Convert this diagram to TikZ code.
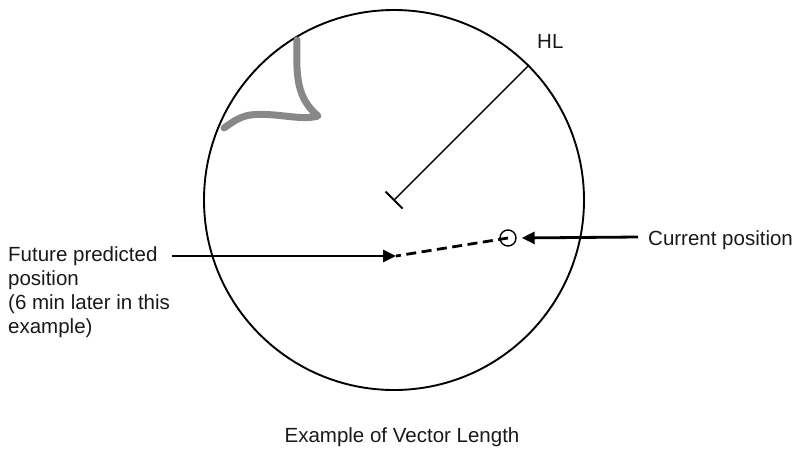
\documentclass[tikz,border=0pt]{standalone}
\usepackage{fontspec}
\setmainfont{Liberation Sans}
\usetikzlibrary{arrows.meta}
\definecolor{echo}{RGB}{136,136,136}
\begin{document}
\begin{tikzpicture}[x=1pt,y=-1pt,
  lbl/.style={font=\fontsize{20.5}{24.3}\selectfont, inner sep=0pt, text=black!90},
  ptr/.style={line width=2.8pt, -{Triangle[length=13pt,width=12pt]}},
  vec/.style={line width=2.8pt, dash pattern=on 10pt off 5.5pt},
  ring/.style={circle, draw, line width=1.9pt, minimum size=380pt, inner sep=0pt},
  own/.style={circle, draw, line width=1.4pt, minimum size=16pt, inner sep=0pt}]
\useasboundingbox (0,0) rectangle (798,448);
% radar circle
\node[ring] (radar) at (394,200) {};
% echo
\draw[echo, line width=7pt, line cap=round, line join=round]
  (297,40) .. controls (296,78) and (297,98) .. (318,116)
  .. controls (300,121) and (275,112) .. (250,115)
  .. controls (238,117) and (230,124) .. (224,128);
% heading line
\draw[line width=1.4pt] (radar.center) -- (radar.45);
\coordinate (tA) at ([shift={(-8.5,-8.5)}]radar.center);
\coordinate (tB) at ([shift={(8.5,8.5)}]radar.center);
\draw[line width=1.9pt] (tA) -- (tB);
\node[lbl, anchor=base west] (hl) at (537,48) {HL};
% own ship
\node[own] (cur) at (508,238) {};
\coordinate (fut) at (396,256);
\draw[vec] (cur.center) -- (fut);
% labels and pointers
\node[lbl, anchor=base west] (curtxt) at (648,245) {Current position};
\coordinate (cs) at (638,237);
\draw[ptr, shorten >=5pt] (cs) -- (cur.east);
\node[lbl, anchor=north west, align=left] (futtxt) at (8,246) {Future predicted\\position\\(6 min later in this\\example)};
\coordinate (fs) at (172,256);
\draw[ptr] (fs) -- (fut);
\node[lbl, anchor=base] (cap) at (402,442) {Example of Vector Length};
\end{tikzpicture}
\end{document}
